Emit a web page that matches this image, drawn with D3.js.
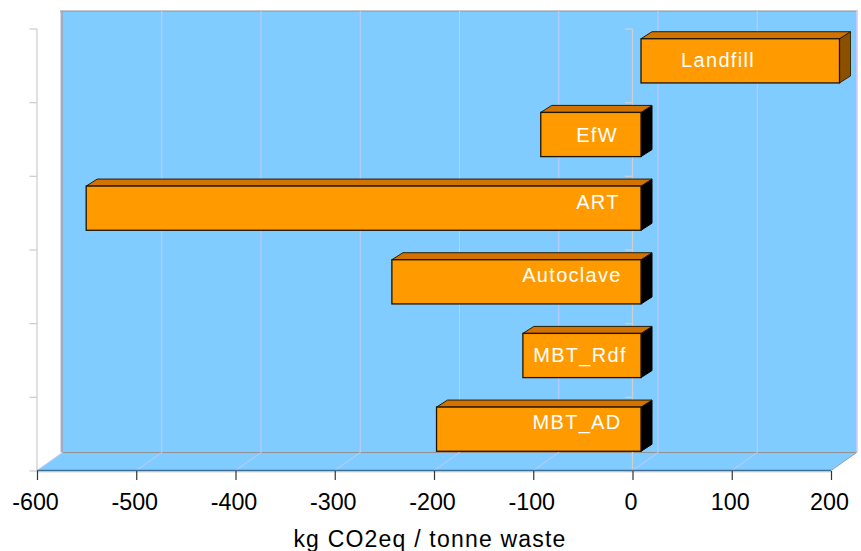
<!DOCTYPE html>
<html><head><meta charset="utf-8">
<script src="https://cdn.jsdelivr.net/npm/d3@7/dist/d3.min.js"></script>
<style>html,body{margin:0;padding:0;background:#fff}svg{display:block}text{font-family:"Liberation Sans",Arial,sans-serif}</style>
</head><body><svg id="c" width="861" height="551"></svg>
<script>
const categories=["MBT_AD","MBT_Rdf","Autoclave","ART","EfW","Landfill"];
const values=[-206,-119,-251,-559,-101,200];
const xTicks=[-600,-500,-400,-300,-200,-100,0,100,200];
const svg=d3.select("#c");
const x=d3.scaleLinear().domain([-600,200]).range([37,831]);
const y=d3.scaleBand().domain(categories).range([471,29]).paddingInner(.4).paddingOuter(.2);
const W={dx:25.5,dy:-18}, B={dx:8.5,dy:-5}, S={dx:11,dy:-7};
// label placement in pixels relative to the bar's front face: [centre x from zero line, baseline from bar centre]
const labelPlace={MBT_AD:[-64,0],MBT_Rdf:[-61,6],Autoclave:[-69,0],ART:[-43,1],EfW:[-44,7],Landfill:[77,6]};
const yTop=11, yF=470.5, yB=yF+W.dy;
const blue="#80cbff";
svg.append("rect").attr("x",x(-600)+W.dx-2.5).attr("y",yTop).attr("width",x(200)-x(-600)+4).attr("height",yB-yTop).attr("fill","#d8d6f2");
svg.append("rect").attr("x",x(-600)+W.dx).attr("y",yTop).attr("width",x(200)-x(-600)).attr("height",yB-yTop).attr("fill",blue);
svg.append("line").attr("x1",x(-600)+W.dx-2.5).attr("x2",x(200)+W.dx+1).attr("y1",yTop).attr("y2",yTop).attr("stroke","#929292").attr("stroke-width",1.2);
svg.append("line").attr("x1",x(-600)+W.dx-.5).attr("x2",x(-600)+W.dx-.5).attr("y1",yTop).attr("y2",yB).attr("stroke","#929292").attr("stroke-width",1.2);
svg.append("polygon").attr("points",[[x(-600),yF],[x(-600)+W.dx,yB],[x(200)+W.dx,yB],[x(200),yF]].join(" ")).attr("fill",blue);
svg.append("line").attr("x1",x(-600)+W.dx).attr("x2",x(200)+W.dx).attr("y1",yB).attr("y2",yB).attr("stroke","#929292").attr("stroke-width",1.2);
const grid=xTicks.slice(1);
svg.selectAll(".g").data(grid).join("polyline").attr("fill","none").attr("stroke","#c5cbf4").attr("stroke-width",1)
  .attr("points",d=>[[x(d),yF],[x(d)+W.dx,yB],[x(d)+W.dx,yTop]].join(" "));
svg.append("line").attr("x1",x(-600)).attr("y1",yF).attr("x2",x(-600)+W.dx).attr("y2",yB).attr("stroke","#c9cdf5");
svg.append("line").attr("x1",x(200)).attr("y1",yF).attr("x2",x(200)+W.dx).attr("y2",yB).attr("stroke","#8fa3bd");
const yEdges=d3.range(categories.length+1).map(i=>d3.interpolateNumber(471,29)(i/categories.length));
[x(-600),x(0)].forEach(px=>{
  svg.append("line").attr("x1",px).attr("x2",px).attr("y1",29).attr("y2",471).attr("stroke","#cfcfcf").attr("stroke-width",1.3);
  svg.selectAll(null).data(yEdges).join("line").attr("x1",px-7.5).attr("x2",px).attr("y1",d=>d).attr("y2",d=>d).attr("stroke","#cfcfcf").attr("stroke-width",1.3);
});
svg.append("line").attr("x1",x(-600)).attr("x2",x(200)).attr("y1",yF+1.4).attr("y2",yF+1.4).attr("stroke","#dadada").attr("stroke-width",1.4);
svg.append("line").attr("x1",x(-600)).attr("x2",x(200)).attr("y1",yF).attr("y2",yF).attr("stroke","#3f6f94").attr("stroke-width",1.6);
const g=svg.selectAll(".bar").data(categories.map((c,i)=>({c,v:values[i]}))).join("g");
const left=d=>Math.min(x(d.v),x(0))+B.dx, right=d=>Math.max(x(d.v),x(0))+B.dx;
const top_=d=>y(d.c)+B.dy, bot=d=>y(d.c)+y.bandwidth()+B.dy;
g.append("polygon").attr("fill",d=>d.v>0?"#8a5000":"#000").attr("stroke",d=>d.v>0?"#3a2800":"#000").attr("stroke-width",1).attr("stroke-linejoin","round")
 .attr("points",d=>[[right(d),top_(d)],[right(d)+S.dx,top_(d)+S.dy],[right(d)+S.dx,bot(d)+S.dy],[right(d),bot(d)]].join(" "));
g.append("polygon").attr("fill","#d27300").attr("stroke","#2b1a00").attr("stroke-width",1).attr("stroke-linejoin","round")
 .attr("points",d=>[[left(d),top_(d)],[left(d)+S.dx,top_(d)+S.dy],[right(d)+S.dx,top_(d)+S.dy],[right(d),top_(d)]].join(" "));
g.append("rect").attr("x",left).attr("y",top_).attr("width",d=>right(d)-left(d)).attr("height",y.bandwidth()).attr("fill","#ff9a00").attr("stroke","#1e1400").attr("stroke-width",1.3);
g.append("text").attr("x",d=>x(0)+labelPlace[d.c][0]+B.dx).attr("y",d=>(top_(d)+bot(d))/2+labelPlace[d.c][1])
 .attr("text-anchor","middle").attr("fill","#fff").attr("font-size",20).attr("letter-spacing",1.3).text(d=>d.c);
const ax=d3.axisBottom(x).tickValues(xTicks).tickSize(9).tickPadding(13).tickFormat(d3.format("d"));
const axG=svg.append("g").attr("transform",`translate(0,${yF+.5})`).call(ax);
axG.select(".domain").remove();
axG.selectAll("line").attr("stroke","#333").attr("stroke-width",1.2);
axG.selectAll("line").attr("y2",9);
axG.selectAll("text").attr("font-size",23.3).attr("dx",-2).attr("fill","#000").attr("font-family",'"Liberation Sans",Arial,sans-serif').text(d=>String(d));
svg.append("text").attr("x",430).attr("y",547).attr("text-anchor","middle").attr("font-size",23).attr("letter-spacing",1.2).attr("fill","#000").text("kg CO2eq / tonne waste");
</script></body></html>
